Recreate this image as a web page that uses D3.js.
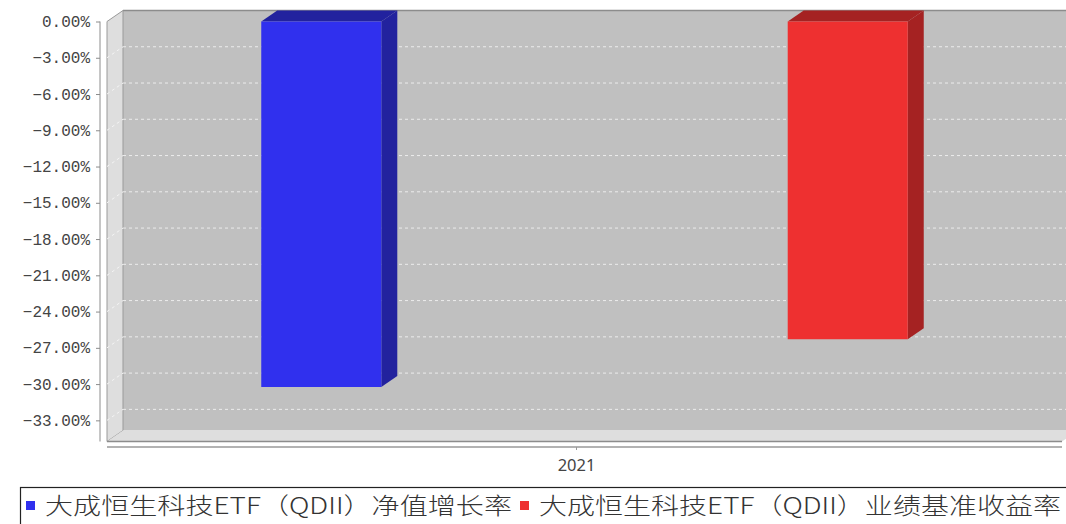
<!DOCTYPE html>
<html>
<head>
<meta charset="utf-8">
<script src="https://cdn.jsdelivr.net/npm/d3@7"></script>
<style>
  body { margin: 0; background: #fff; }
  svg { display: block; }
</style>
</head>
<body>
<div id="chart"></div>
<script>
// data
var categories = ["2021"];
var seriesNames = ["大成恒生科技ETF（QDII）净值增长率", "大成恒生科技ETF（QDII）业绩基准收益率"];
var seriesValues = [-30.24, -26.29];
var seriesColors = ["#3030ee", "#ee3030"];
var seriesDark = ["#22229e", "#a52222"];
var yTicks = [0, -3, -6, -9, -12, -15, -18, -21, -24, -27, -30, -33];

var width = 1066, height = 524;
var plot = { left: 107, right: 1062, top: 21.5, bottom: 441.5 };
var depth = { x: 16, y: 11 }; // 3d offset of the back wall

var svg = d3.select("#chart").append("svg")
    .attr("width", width)
    .attr("height", height);

var y = d3.scaleLinear()
    .domain([-34.75, 0])
    .range([plot.bottom, plot.top]);

// category band across the front plane, series band inside it
var x0 = d3.scaleBand()
    .domain(categories)
    .range([plot.left, plot.right]);

var x1 = d3.scaleBand()
    .domain(seriesNames)
    .range([0, x0.bandwidth()])
    .paddingInner(0.772)
    .paddingOuter(0.293);

// axis scale is shrunk by the depth, like the original renderer
var xAxisScale = d3.scaleBand()
    .domain(categories)
    .range([plot.left, plot.right - depth.x]);

// ---- 3d walls
var backL = plot.left + depth.x, backR = plot.right + depth.x;
var backT = plot.top - depth.y, backB = plot.bottom - depth.y;

svg.append("rect")
    .attr("x", backL).attr("y", backT)
    .attr("width", backR - backL).attr("height", backB - backT)
    .style("fill", "#c0c0c0");

svg.append("line")
    .attr("x1", backL).attr("x2", backR)
    .attr("y1", backT).attr("y2", backT)
    .style("stroke", "#8c8c8c").style("stroke-width", 1.5);

// left wall
svg.append("path")
    .attr("d", "M" + plot.left + "," + plot.top + "L" + backL + "," + backT +
               "L" + backL + "," + backB + "L" + plot.left + "," + plot.bottom + "Z")
    .style("fill", "#dedede")
    .style("stroke", "#9a9a9a").style("stroke-width", 1);

// floor
svg.append("path")
    .attr("d", "M" + plot.left + "," + plot.bottom + "L" + backL + "," + backB +
               "L" + backR + "," + backB + "L" + plot.right + "," + plot.bottom + "Z")
    .style("fill", "#dedede");

svg.append("line")
    .attr("x1", plot.left).attr("x2", plot.right)
    .attr("y1", plot.bottom).attr("y2", plot.bottom)
    .style("stroke", "#8c8c8c").style("stroke-width", 1.5);

// gridlines on back wall + slanted bits on the left wall
var grid = svg.append("g");
grid.selectAll(".grid")
    .data(yTicks.filter(function(d) { return d !== 0; }))
    .enter().append("line")
    .attr("x1", backL).attr("x2", backR)
    .attr("y1", function(d) { return y(d) - depth.y; })
    .attr("y2", function(d) { return y(d) - depth.y; })
    .style("stroke", "#ececec")
    .style("stroke-width", 1)
    .style("stroke-dasharray", "3,3");

grid.selectAll(".wallgrid")
    .data(yTicks.filter(function(d) { return d !== 0; }))
    .enter().append("line")
    .attr("x1", plot.left).attr("x2", backL)
    .attr("y1", function(d) { return y(d); })
    .attr("y2", function(d) { return y(d) - depth.y; })
    .style("stroke", "#f4f4f4")
    .style("stroke-width", 1)
    .style("stroke-dasharray", "3,3");

// ---- bars
var bars = svg.append("g").selectAll("g")
    .data(seriesNames.map(function(name, i) {
        return { name: name, value: seriesValues[i], color: seriesColors[i], dark: seriesDark[i] };
    }))
    .enter().append("g");

bars.each(function(d) {
    var g = d3.select(this);
    var bx = x0(categories[0]) + x1(d.name);
    var bw = x1.bandwidth();
    var yTop = y(0), yBot = y(d.value);

    // top face
    g.append("path")
        .attr("d", "M" + bx + "," + yTop + "L" + (bx + depth.x) + "," + (yTop - depth.y) +
                   "L" + (bx + bw + depth.x) + "," + (yTop - depth.y) + "L" + (bx + bw) + "," + yTop + "Z")
        .style("fill", d.dark);
    // side face
    g.append("path")
        .attr("d", "M" + (bx + bw) + "," + yTop + "L" + (bx + bw + depth.x) + "," + (yTop - depth.y) +
                   "L" + (bx + bw + depth.x) + "," + (yBot - depth.y) + "L" + (bx + bw) + "," + yBot + "Z")
        .style("fill", d.dark);
    // front face
    g.append("rect")
        .attr("x", bx).attr("y", yTop)
        .attr("width", bw).attr("height", yBot - yTop)
        .style("fill", d.color);
});

// ---- y axis
var yAxis = svg.append("g")
    .attr("transform", "translate(100,0)")
    .call(d3.axisLeft(y)
        .tickValues(yTicks)
        .tickSize(4)
        .tickPadding(6)
        .tickFormat(function(d) { return d3.format(".2f")(d) + "%"; }));

yAxis.select(".domain")
    .attr("d", "M0," + plot.top + "V" + plot.bottom)
    .style("stroke", "#8c8c8c");
yAxis.selectAll(".tick line").style("stroke", "#8c8c8c");
yAxis.selectAll(".tick text")
    .style("font-family", "'Liberation Mono', 'DejaVu Sans Mono', monospace")
    .style("font-size", "16px")
    .style("fill", "#444");

// ---- x axis
var xAxis = svg.append("g")
    .attr("transform", "translate(0,447)")
    .call(d3.axisBottom(xAxisScale).tickSize(3).tickPadding(9));

xAxis.select(".domain")
    .attr("d", "M" + plot.left + ",0H" + plot.right)
    .style("stroke", "#999")
    .style("stroke-width", 1.5);
xAxis.selectAll(".tick line").style("stroke", "#999");
xAxis.selectAll(".tick text")
    .style("font-family", "'Noto Sans', sans-serif")
    .style("font-size", "16.5px")
    .style("fill", "#444");

// ---- legend
var legend = svg.append("g");
legend.append("rect")
    .attr("x", 20.5).attr("y", 487.5)
    .attr("width", 1070).attr("height", 60)
    .style("fill", "#fff")
    .style("stroke", "#222")
    .style("stroke-width", 1.2);

var legendX = [26, 520];
var legendTextW = [467, 522];

var items = legend.selectAll(".item")
    .data(seriesNames)
    .enter().append("g");

items.append("rect")
    .attr("x", function(d, i) { return legendX[i]; })
    .attr("y", 501)
    .attr("width", 9).attr("height", 9)
    .style("fill", function(d, i) { return seriesColors[i]; });

items.append("text")
    .attr("x", function(d, i) { return legendX[i] + 19; })
    .attr("y", 514)
    .attr("textLength", function(d, i) { return legendTextW[i]; })
    .attr("lengthAdjust", "spacingAndGlyphs")
    .style("font-family", "'Noto Sans CJK SC', sans-serif")
    .style("font-size", "23px")
    .style("font-weight", 300)
    .style("fill", "#333")
    .text(function(d) { return d; });
</script>
</body>
</html>
